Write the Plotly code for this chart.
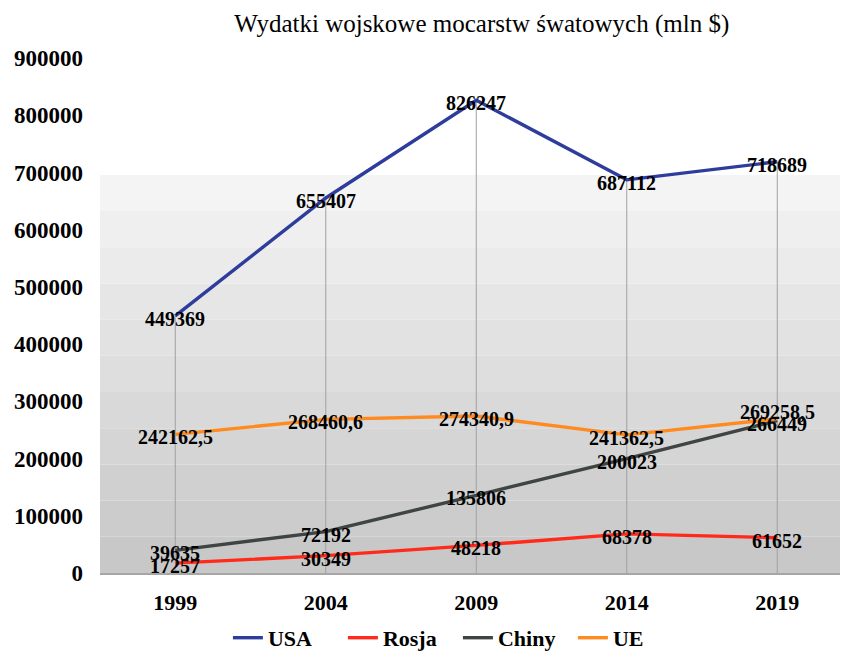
import plotly.graph_objects as go

years = ["1999", "2004", "2009", "2014", "2019"]
usa = [449369, 655407, 826247, 687112, 718689]
rosja = [17257, 30349, 48218, 68378, 61652]
chiny = [39635, 72192, 135806, 200023, 266449]
ue = [242162.5, 268460.6, 274340.9, 241362.5, 269258.5]
y_ticks = [0, 100000, 200000, 300000, 400000, 500000, 600000, 700000, 800000, 900000]

series = [
    ("USA", usa, "#2E3D9C"),
    ("Rosja", rosja, "#FF2A1A"),
    ("Chiny", chiny, "#3F4542"),
    ("UE", ue, "#FF8A1F"),
]

def fmt(v):
    if float(v).is_integer():
        return str(int(v))
    return f"{v:.1f}".replace(".", ",")

serif = "Liberation Serif"

fig = go.Figure()
annotations = []
for name, vals, col in series:
    fig.add_trace(go.Scatter(
        x=years, y=vals, name=name, mode="lines",
        line=dict(color=col, width=3.4),
    ))
    for i, v in enumerate(vals):
        shift = -3
        if name == "UE" and i == 4:
            shift = 7
        annotations.append(dict(
            x=i, y=v, xref="x", yref="y", text=fmt(v), showarrow=False,
            xanchor="center", yanchor="middle", yshift=shift,
            font=dict(family=serif, size=20, color="black", weight="bold"),
        ))

shapes = []
# gradient background (bands)
n = 11
top = 0.773
for i in range(n):
    y0 = top * i / n
    y1 = top * (i + 1) / n
    t = i / (n - 1)
    c = int(200 + (244 - 200) * t)
    shapes.append(dict(type="rect", xref="paper", yref="paper", x0=0, x1=1, y0=y0, y1=y1,
                       fillcolor=f"rgb({c},{c},{c})", line=dict(width=0), layer="below"))
# drop lines
for i, yr in enumerate(years):
    mx = max(s[1][i] for s in series)
    shapes.append(dict(type="line", xref="x", yref="y", x0=i, x1=i, y0=0, y1=mx,
                       line=dict(color="#A0A0A0", width=1), layer="below"))

fig.update_layout(
    width=840, height=646,
    margin=dict(l=92, r=0, t=50, b=81, autoexpand=False),
    paper_bgcolor="white", plot_bgcolor="white",
    shapes=shapes,
    annotations=annotations,
    title=dict(text="Wydatki wojskowe mocarstw śwatowych (mln $)",
               x=0.564, xref="container", xanchor="center",
               y=0.977, yref="container", yanchor="middle",
               font=dict(family=serif, size=25, color="black")),
    xaxis=dict(type="category", range=[-0.5, 4.47], showgrid=False, zeroline=False,
               showline=True, linecolor="#A6A6A6", linewidth=1.5, ticks="",
               automargin=False, ticklabelstandoff=9,
               tickfont=dict(family=serif, size=22, color="black", weight="bold")),
    yaxis=dict(range=[0, 900000], tickvals=y_ticks, ticktext=[str(v) for v in y_ticks],
               showgrid=False, zeroline=False, showline=False, ticks="",
               ticklabelstandoff=16, automargin=False,
               tickfont=dict(family=serif, size=23, color="black", weight="bold")),
    showlegend=True,
    legend=dict(orientation="h", x=0.171, xanchor="left", y=-0.126, yanchor="middle",
                entrywidth=70, entrywidthmode="pixels",
                font=dict(family=serif, size=22, color="black", weight="bold"),
                bgcolor="rgba(0,0,0,0)"),
)

fig.write_html("out.html")
